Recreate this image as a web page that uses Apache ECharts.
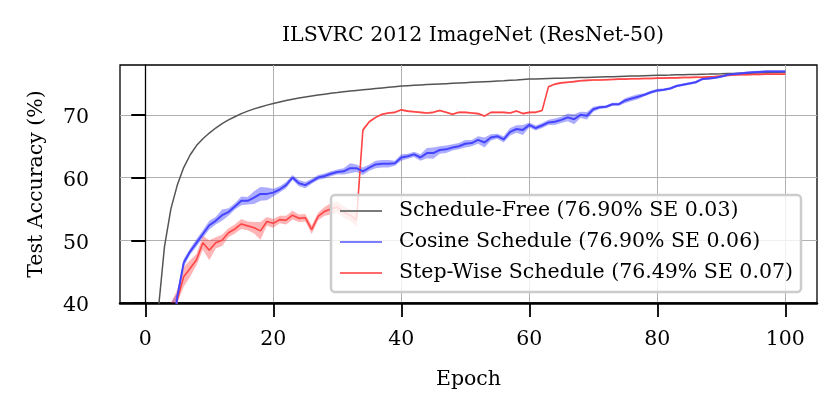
<!DOCTYPE html>
<html>
<head>
<meta charset="utf-8">
<script src="https://cdn.jsdelivr.net/npm/echarts@6/dist/echarts.min.js"></script>
<style>
html,body{margin:0;padding:0;background:#fff;}
#c{width:840px;height:420px;}
</style>
</head>
<body>
<div id="c"></div>
<script>
const epochs = Array.from({length: 100}, (_, i) => i + 1);

const scheduleFree = [
  25.0, 38.5, 49.0, 55.0, 58.8, 61.6, 63.6, 65.1, 66.2, 67.1,
  67.9, 68.6, 69.2, 69.7, 70.2, 70.6, 70.95, 71.25, 71.55, 71.8,
  72.05, 72.3, 72.5, 72.7, 72.85, 73.0, 73.15, 73.3, 73.45, 73.55,
  73.7, 73.8, 73.9, 74.0, 74.1, 74.2, 74.3, 74.4, 74.5, 74.6,
  74.66, 74.72, 74.78, 74.83, 74.88, 74.93, 74.98, 75.03, 75.08, 75.13,
  75.18, 75.23, 75.28, 75.33, 75.38, 75.43, 75.5, 75.56, 75.63, 75.7,
  75.73, 75.76, 75.79, 75.82, 75.85, 75.88, 75.91, 75.94, 75.97, 76.0,
  76.03, 76.06, 76.09, 76.12, 76.15, 76.18, 76.21, 76.24, 76.27, 76.3,
  76.33, 76.35, 76.38, 76.4, 76.43, 76.45, 76.48, 76.5, 76.53, 76.55,
  76.58, 76.6, 76.63, 76.65, 76.68, 76.7, 76.73, 76.76, 76.8, 76.85
];

const cosine = [
  12.0, 20.0, 27.0, 33.0, 41.0, 46.4, 48.2, 49.6, 51.0, 52.4,
  53.1, 54.0, 54.5, 55.4, 56.3, 56.3, 56.8, 57.4, 57.4, 57.6,
  58.1, 58.8, 60.0, 59.1, 58.8, 59.4, 60.0, 60.25, 60.6, 60.9,
  61.0, 61.5, 61.5, 61.0, 61.6, 62.1, 62.2, 62.2, 62.3, 63.2,
  63.4, 63.7, 63.2, 63.9, 63.9, 64.4, 64.5, 64.8, 65.0, 65.4,
  65.5, 66.0, 65.6, 66.4, 66.6, 66.1, 67.3, 67.75, 67.6, 68.4,
  67.9, 68.3, 68.8, 68.9, 69.2, 69.6, 69.3, 70.0, 69.85, 70.9,
  71.2, 71.3, 71.7, 71.7, 72.3, 72.6, 72.9, 73.2, 73.6, 73.9,
  74.0, 74.2, 74.6, 74.8, 75.0, 75.2, 75.7, 75.8, 75.9, 76.1,
  76.4, 76.5, 76.6, 76.7, 76.8, 76.85, 76.9, 76.9, 76.9, 76.9
];

const cosineSE = [
  0.6, 0.6, 0.6, 0.6, 0.6, 0.6, 0.5, 0.6, 0.6, 0.7,
  0.6, 0.9, 0.6, 0.5, 0.7, 0.6, 1.0, 1.1, 1.0, 0.6,
  0.5, 0.5, 0.4, 0.5, 0.5, 0.4, 0.4, 0.4, 0.4, 0.4,
  0.5, 0.8, 0.6, 0.6, 0.5, 0.6, 0.6, 0.6, 0.4, 0.5,
  0.4, 0.4, 0.5, 0.8, 0.9, 0.6, 0.6, 0.5, 0.5, 0.6,
  0.5, 0.6, 0.8, 0.5, 0.4, 0.5, 0.6, 0.6, 0.8, 0.4,
  0.4, 0.4, 0.4, 0.5, 0.5, 0.6, 0.8, 0.5, 0.6, 0.4,
  0.25, 0.25, 0.25, 0.25, 0.4, 0.4, 0.4, 0.25, 0.25, 0.25,
  0.2, 0.2, 0.2, 0.2, 0.2, 0.2, 0.2, 0.2, 0.2, 0.2,
  0.2, 0.2, 0.2, 0.2, 0.2, 0.2, 0.2, 0.2, 0.2, 0.2
];

const stepWise = [
  10.0, 18.0, 26.0, 33.0, 40.5, 44.2, 45.5, 46.9, 49.6, 48.4,
  49.6, 50.0, 51.2, 51.8, 52.6, 52.3, 52.0, 51.5, 53.0, 52.7,
  53.3, 53.2, 54.0, 53.5, 53.6, 51.7, 53.8, 54.6, 55.0, 55.3,
  54.5, 54.0, 53.2, 67.6, 68.9, 69.6, 70.1, 70.3, 70.4, 70.8,
  70.6, 70.5, 70.4, 70.3, 70.4, 70.7, 70.4, 70.1, 70.4, 70.4,
  70.3, 70.2, 69.8, 70.4, 70.4, 70.4, 70.3, 70.6, 70.2, 70.4,
  70.4, 70.7, 74.5, 74.9, 75.1, 75.2, 75.3, 75.45, 75.5, 75.55,
  75.55, 75.6, 75.65, 75.7, 75.7, 75.75, 75.75, 75.8, 75.8, 75.85,
  75.85, 75.9, 75.9, 75.95, 75.95, 76.0, 76.0, 76.05, 76.1, 76.2,
  76.3, 76.35, 76.4, 76.4, 76.45, 76.45, 76.5, 76.5, 76.5, 76.49
];

const stepWiseSE = [
  1.6, 1.6, 1.6, 1.6, 1.6, 1.6, 1.3, 0.9, 1.1, 1.6,
  0.9, 0.9, 0.7, 0.7, 0.8, 0.7, 0.9, 1.4, 0.7, 0.7,
  0.6, 0.7, 0.7, 0.6, 0.6, 0.7, 0.6, 0.7, 0.9, 0.9,
  0.9, 0.9, 1.1, 0.3, 0.15, 0.15, 0.15, 0.15, 0.15, 0.15,
  0.15, 0.15, 0.15, 0.15, 0.15, 0.15, 0.15, 0.15, 0.15, 0.15,
  0.15, 0.15, 0.15, 0.15, 0.15, 0.15, 0.15, 0.15, 0.15, 0.15,
  0.15, 0.15, 0.15, 0.15, 0.15, 0.15, 0.15, 0.15, 0.15, 0.15,
  0.15, 0.15, 0.15, 0.15, 0.15, 0.15, 0.15, 0.15, 0.15, 0.15,
  0.15, 0.15, 0.15, 0.15, 0.15, 0.15, 0.15, 0.15, 0.15, 0.15,
  0.15, 0.15, 0.15, 0.15, 0.15, 0.15, 0.15, 0.15, 0.15, 0.15
];

const xTicks = [0, 20, 40, 60, 80, 100];
const yTicks = [40, 50, 60, 70];
const names = [
  'Schedule-Free (76.90% SE 0.03)',
  'Cosine Schedule (76.90% SE 0.06)',
  'Step-Wise Schedule (76.49% SE 0.07)'
];

const FONT = 'DejaVu Serif';
const Y_MIN = 40, Y_MAX = 77.95;
const pairs = (ys) => epochs.map((e, i) => [e, ys[i]]);
const clampY = (v) => Math.max(Y_MIN, Math.min(Y_MAX, v));

function band(m, s, color) {
  return {
    type: 'custom', silent: true, z: 1,
    data: pairs(m),
    renderItem: function (params, api) {
      if (params.dataIndex !== 0) return;
      const pts = [];
      for (let i = 0; i < epochs.length; i++) pts.push(api.coord([epochs[i], clampY(m[i] + s[i])]));
      for (let i = epochs.length - 1; i >= 0; i--) pts.push(api.coord([epochs[i], clampY(m[i] - s[i])]));
      return { type: 'polygon', shape: { points: pts }, style: { fill: color }, silent: true };
    }
  };
}

const chart = echarts.init(document.getElementById('c'), null, { renderer: 'canvas' });
chart.setOption({
  animation: false,
  backgroundColor: '#fff',
  title: {
    text: 'ILSVRC 2012 ImageNet (ResNet-50)',
    left: 468, top: 20, textAlign: 'center',
    textStyle: { fontFamily: FONT, fontSize: 20.5, fontWeight: 'normal', color: '#000' }
  },
  grid: { left: 120, right: 23, top: 65, bottom: 117, show: true,
          borderColor: '#000', borderWidth: 1.3, backgroundColor: 'transparent' },
  legend: {
    orient: 'vertical', left: 331, top: 195, icon: 'rect',
    data: [
      { name: names[0], itemStyle: { color: '#7a7a7a' } },
      { name: names[1], itemStyle: { color: '#7d7dff' } },
      { name: names[2], itemStyle: { color: '#ff6a6a' } }
    ],
    backgroundColor: 'rgba(255,255,255,0.8)',
    borderColor: '#cccccc', borderWidth: 2.5, borderRadius: 4,
    padding: [5, 8, 8, 9],
    itemWidth: 42, itemHeight: 2.2, itemGap: 9,
    textStyle: { fontFamily: FONT, fontSize: 20.5, color: '#000', lineHeight: 22,
                 padding: [0, 0, 0, 12] }
  },
  xAxis: {
    type: 'value', min: -3.95, max: 104.95,
    name: 'Epoch', nameLocation: 'middle', nameGap: 66,
    nameTextStyle: { fontFamily: FONT, fontSize: 20.5, color: '#000' },
    axisLine: { show: true, onZero: false, lineStyle: { color: '#000', width: 2.5 } },
    axisTick: { show: true, customValues: xTicks, length: 14, lineStyle: { color: '#000', width: 1.8 } },
    axisLabel: { customValues: xTicks, margin: 26, fontFamily: FONT, fontSize: 20.5, color: '#000' },
    splitLine: { show: true, lineStyle: { color: '#b0b0b0', width: 1 } }
  },
  yAxis: {
    type: 'value', min: Y_MIN, max: Y_MAX,
    name: 'Test Accuracy (%)', nameLocation: 'middle', nameGap: 73,
    nameTextStyle: { fontFamily: FONT, fontSize: 20.5, color: '#000' },
    axisLine: { show: true, lineStyle: { color: '#000', width: 1.3 } },
    axisTick: { show: true, customValues: yTicks, length: 14, lineStyle: { color: '#000', width: 2 } },
    axisLabel: { customValues: yTicks, margin: 31, color: '#000',
                 formatter: '{v|{value}}',
                 rich: { v: { fontFamily: FONT, fontSize: 20.5, color: '#000', padding: [6, 0, 0, 0] } } },
    splitLine: { show: true, lineStyle: { color: '#b0b0b0', width: 1 } }
  },
  series: [
    band(cosine, cosineSE, 'rgba(50,50,255,0.4)'),
    band(stepWise, stepWiseSE, 'rgba(255,50,50,0.36)'),
    { name: names[0], type: 'line', data: pairs(scheduleFree), symbol: 'none', z: 3,
      lineStyle: { color: '#555555', width: 1.5 }, itemStyle: { color: '#555555' } },
    { name: names[2], type: 'line', data: pairs(stepWise), symbol: 'none', z: 3,
      lineStyle: { color: '#ff4545', width: 1.6 }, itemStyle: { color: '#ff4545' } },
    { name: names[1], type: 'line', data: pairs(cosine), symbol: 'none', z: 3,
      lineStyle: { color: '#4545ff', width: 2 }, itemStyle: { color: '#4545ff' } }
  ]
});
</script>
</body>
</html>
